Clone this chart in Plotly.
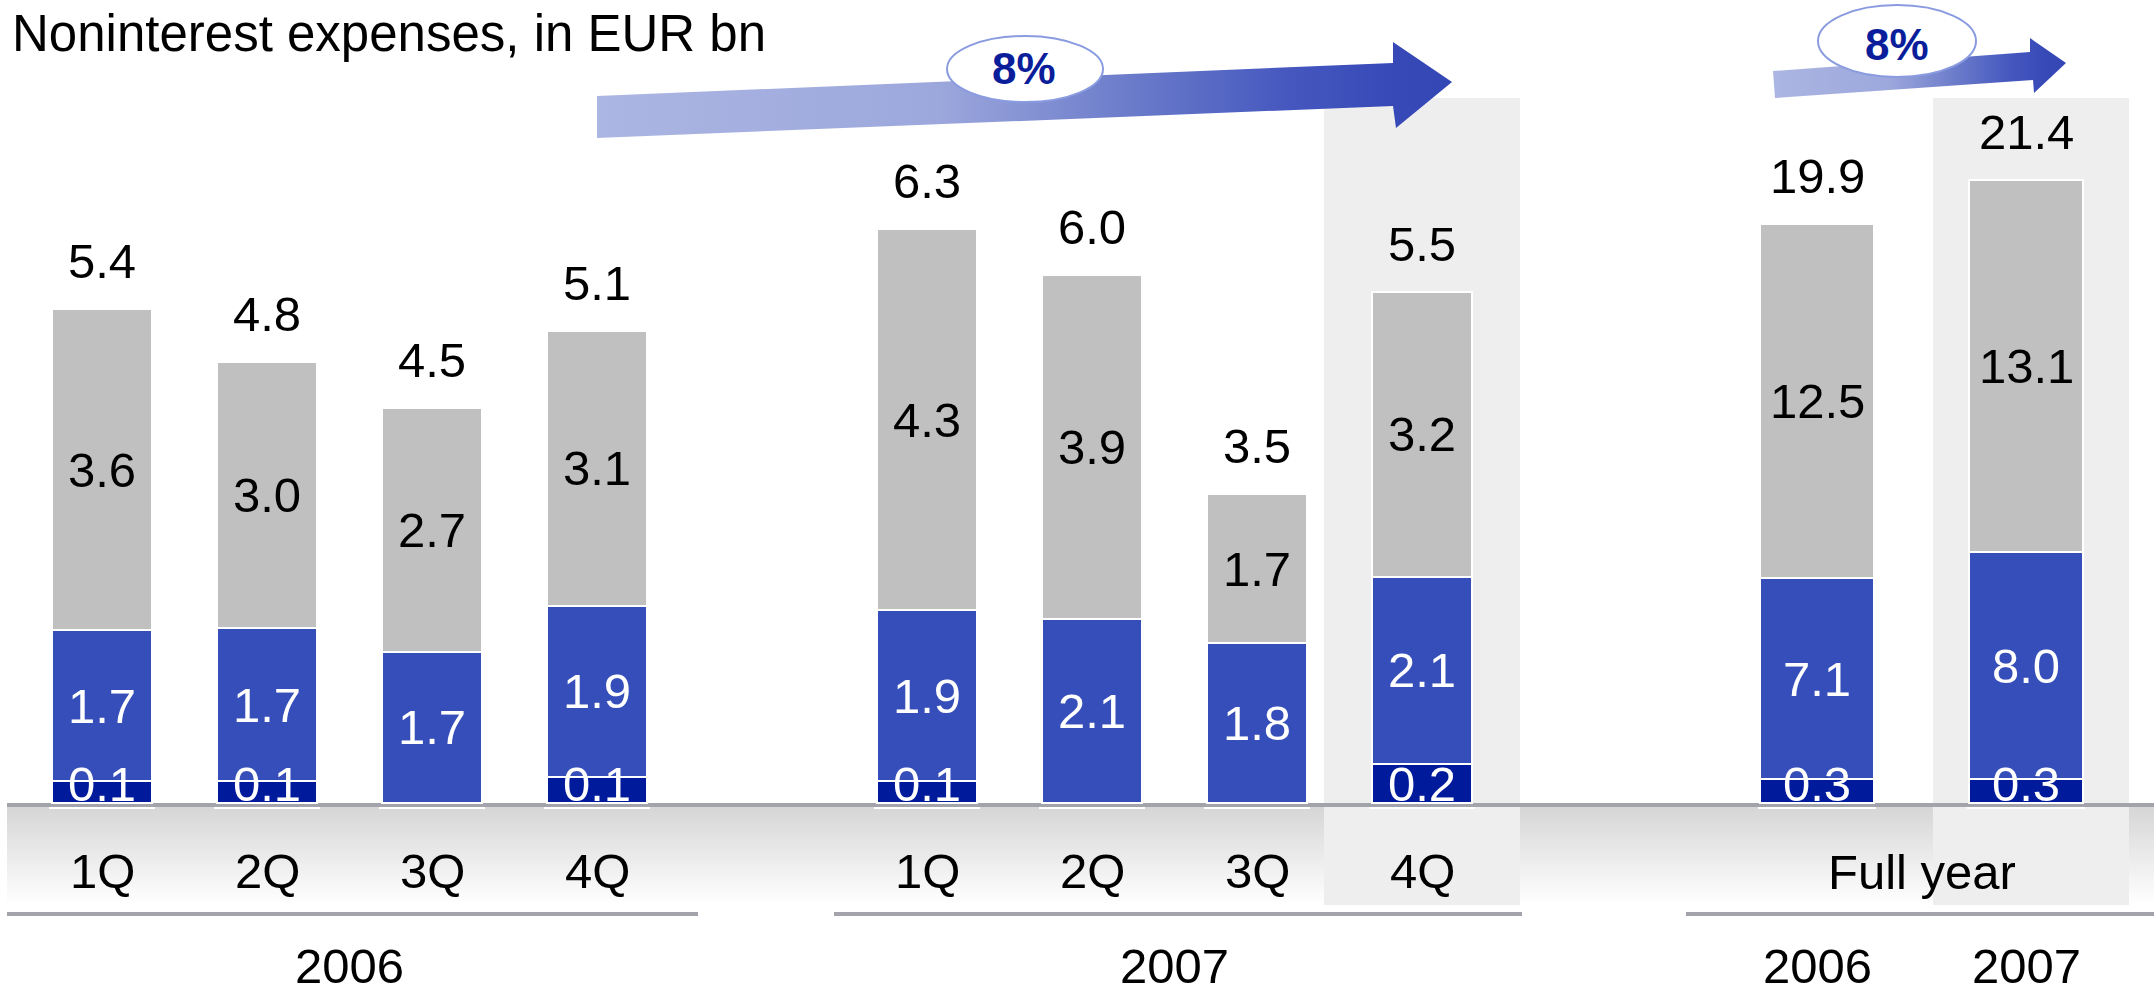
import plotly.graph_objects as go

# ---------------- data ----------------
quarters = ["1Q", "2Q", "3Q", "4Q"]
years = ["2006", "2007"]
full_year_label = "Full year"
title_text = "Noninterest expenses, in EUR bn"
growth_labels = ["8%", "8%"]

# bar segment heights as drawn in the picture (EUR bn)
q06_dark = [0.24, 0.24, None, 0.29]
q06_blue = [1.67, 1.69, 1.67, 1.89]
q06_gray = [3.55, 2.94, 2.69, 3.04]
q07_dark = [0.24, None, None, 0.43]
q07_blue = [1.89, 2.03, 1.77, 2.07]
q07_gray = [4.21, 3.80, 1.64, 3.15]
fy_dark = [0.82, 0.82]
fy_blue = [6.91, 7.80]
fy_gray = [12.16, 12.78]

# printed value labels
q06_total_lbl = [5.4, 4.8, 4.5, 5.1]
q06_gray_lbl = [3.6, 3.0, 2.7, 3.1]
q06_blue_lbl = [1.7, 1.7, 1.7, 1.9]
q06_dark_lbl = [0.1, 0.1, None, 0.1]
q07_total_lbl = [6.3, 6.0, 3.5, 5.5]
q07_gray_lbl = [4.3, 3.9, 1.7, 3.2]
q07_blue_lbl = [1.9, 2.1, 1.8, 2.1]
q07_dark_lbl = [0.1, None, None, 0.2]
fy_total_lbl = [19.9, 21.4]
fy_gray_lbl = [12.5, 13.1]
fy_blue_lbl = [7.1, 8.0]
fy_dark_lbl = [0.3, 0.3]

# ---------------- layout constants ----------------
W, H = 2154, 993
FONT = "Liberation Sans, Arial, Helvetica, sans-serif"
GRAY = "#C0C0C0"
BLUE = "#354EB9"
DARK = "#001A9C"
HILITE = "#EEEEEE"
RULE = "#A3A3AB"
LBL = 49

BASE_PX = 803
Q_X0, Q_STEP, Q_YS = 102, 165, 90.5
F_X0, F_STEP, F_YS = 1817, 209, 29.1


def px_x(p):
    return p / W


def px_y(p):
    return 1 - p / H


gap = " "
q_cats = [f"{q} {y}" for y in years for q in quarters]
cat_order = q_cats[:4] + [gap] + q_cats[4:]
fy_cats = [f"FY {y}" for y in years]

q_dark = q06_dark + q07_dark
q_blue = q06_blue + q07_blue
q_gray = q06_gray + q07_gray
q_total_lbl = q06_total_lbl + q07_total_lbl
q_gray_lbl = q06_gray_lbl + q07_gray_lbl
q_blue_lbl = q06_blue_lbl + q07_blue_lbl
q_dark_lbl = q06_dark_lbl + q07_dark_lbl

fig = go.Figure()


def add_stack(cats, dark, blue, gray, width, xa, ya):
    for vals, col, nm in [(dark, DARK, "Segment 1"), (blue, BLUE, "Segment 2"),
                          (gray, GRAY, "Segment 3")]:
        fig.add_trace(go.Bar(
            x=cats, y=vals, name=nm, width=width,
            marker=dict(color=col, line=dict(color="white", width=2)),
            xaxis=xa, yaxis=ya, showlegend=False, hoverinfo="skip"))


add_stack(q_cats, q_dark, q_blue, q_gray, 0.612, "x", "y")
add_stack(fy_cats, fy_dark, fy_blue, fy_gray, 0.545, "x2", "y2")

ann = []


def label_stack(cats, dark, blue, gray, tl, gl, bl, dl, xref, yref):
    for i, c in enumerate(cats):
        d = dark[i] or 0
        b = blue[i] or 0
        g = gray[i] or 0
        ann.append(dict(x=c, y=d + b + g, xref=xref, yref=yref, text=f"{tl[i]:.1f}",
                        yshift=48, showarrow=False, yanchor="middle",
                        font=dict(size=LBL, color="black", family=FONT)))
        ann.append(dict(x=c, y=d + b + g / 2, xref=xref, yref=yref, text=f"{gl[i]:.1f}",
                        showarrow=False, yanchor="middle",
                        font=dict(size=LBL, color="black", family=FONT)))
        ann.append(dict(x=c, y=d + b / 2, xref=xref, yref=yref, text=f"{bl[i]:.1f}",
                        showarrow=False, yanchor="middle",
                        font=dict(size=LBL, color="white", family=FONT)))
        if dl[i] is not None:
            ann.append(dict(x=c, y=0, xref=xref, yref=yref, text=f"{dl[i]:.1f}",
                            yshift=19, showarrow=False, yanchor="middle",
                            font=dict(size=LBL, color="white", family=FONT)))


label_stack(q_cats, q_dark, q_blue, q_gray, q_total_lbl, q_gray_lbl, q_blue_lbl,
            q_dark_lbl, "x", "y")
label_stack(fy_cats, fy_dark, fy_blue, fy_gray, fy_total_lbl, fy_gray_lbl, fy_blue_lbl,
            fy_dark_lbl, "x2", "y2")

# category labels
YEAR_Y = 966
for c, q in zip(q_cats, quarters * 2):
    ann.append(dict(x=c, y=px_y(871), xref="x", yref="paper", text=q, showarrow=False,
                    yanchor="middle", font=dict(size=LBL, color="black", family=FONT)))
ann.append(dict(x=1.5, y=px_y(YEAR_Y), xref="x", yref="paper", text=years[0], showarrow=False,
                yanchor="middle", font=dict(size=LBL, color="black", family=FONT)))
ann.append(dict(x=6.5, y=px_y(YEAR_Y), xref="x", yref="paper", text=years[1], showarrow=False,
                yanchor="middle", font=dict(size=LBL, color="black", family=FONT)))
ann.append(dict(x=0.5, y=px_y(872), xref="x2", yref="paper", text=full_year_label,
                showarrow=False, yanchor="middle",
                font=dict(size=LBL, color="black", family=FONT)))
for c, y in zip(fy_cats, years):
    ann.append(dict(x=c, y=px_y(YEAR_Y), xref="x2", yref="paper", text=y, showarrow=False,
                    yanchor="middle", font=dict(size=LBL, color="black", family=FONT)))

# title
ann.append(dict(x=px_x(10), y=px_y(34), xref="paper", yref="paper", text=title_text,
                showarrow=False, xanchor="left", yanchor="middle",
                font=dict(size=51, color="black", family=FONT)))

# growth labels
for (cx, cy), t in zip([(1024, 69), (1897, 44)], growth_labels):
    ann.append(dict(x=px_x(cx), y=px_y(cy), xref="paper", yref="paper", text=f"<b>{t}</b>",
                    showarrow=False, xanchor="center", yanchor="middle",
                    font=dict(size=44, color="#0A1E9B", family=FONT)))

# ---------------- decorative shapes ----------------
shapes = []
# gradient band below the baseline
top, bot = 807, 905
n = (bot - top) // 2
for k in range(n):
    t = k / (n - 1)
    v = int(round(214 + (255 - 214) * t))
    shapes.append(dict(type="rect", xref="paper", yref="paper", layer="below",
                       x0=px_x(7), x1=1, y0=px_y(top + 2 * k), y1=px_y(top + 2 * k + 2.2),
                       fillcolor=f"rgb({v},{v},{v})", line=dict(width=0)))
# highlight columns
for x0, x1 in [(1324, 1520), (1933, 2129)]:
    shapes.append(dict(type="rect", xref="paper", yref="paper", layer="below",
                       x0=px_x(x0), x1=px_x(x1), y0=px_y(905), y1=px_y(98),
                       fillcolor=HILITE, line=dict(width=0)))
# baseline
shapes.append(dict(type="rect", xref="paper", yref="paper", layer="below",
                   x0=px_x(7), x1=1, y0=px_y(807), y1=px_y(803),
                   fillcolor=RULE, line=dict(width=0)))
# thin white edge under each bar, just below the baseline rule
for cx, hw in [(Q_X0 + Q_STEP * i, 53) for i in (0, 1, 2, 3, 5, 6, 7, 8)] + \
              [(F_X0 + F_STEP * i, 59) for i in (0, 1)]:
    shapes.append(dict(type="rect", xref="paper", yref="paper", layer="below",
                       x0=px_x(cx - hw), x1=px_x(cx + hw), y0=px_y(809), y1=px_y(807),
                       fillcolor="white", line=dict(width=0)))
# group rules
for x0, x1 in [(7, 698), (834, 1522), (1686, W)]:
    shapes.append(dict(type="rect", xref="paper", yref="paper", layer="below",
                       x0=px_x(x0), x1=px_x(x1), y0=px_y(916), y1=px_y(912),
                       fillcolor=RULE, line=dict(width=0)))
# ellipses
for x0, x1, y0, y1 in [(947, 1103, 36, 102), (1818, 1976, 5, 77)]:
    shapes.append(dict(type="circle", xref="paper", yref="paper", layer="above",
                       x0=px_x(x0), x1=px_x(x1), y0=px_y(y1), y1=px_y(y0),
                       fillcolor="white", line=dict(color="#8A9BE0", width=2)))

# gradient arrows (in a pixel-space helper axis)
arrow_scale = [[0, "#ACB6E3"], [0.4, "#9CA7DC"], [0.6, "#7080CC"],
               [0.8, "#4759BF"], [0.93, "#3749B7"], [1, "#3347B5"]]
arrows = [
    ([597, 1393, 1393, 1452, 1396, 1393, 597, 597], [96, 63, 42, 82, 128, 106, 138, 96]),
    ([1773, 2030, 2030, 2066, 2034, 2033, 1775, 1773], [71, 52, 38, 63, 93, 80, 98, 71]),
]
for ax_, ay_ in arrows:
    fig.add_trace(go.Scatter(x=ax_, y=ay_, mode="lines", fill="toself",
                             line=dict(width=0, color="rgba(0,0,0,0)"),
                             fillgradient=dict(type="horizontal", colorscale=arrow_scale),
                             xaxis="x3", yaxis="y3", showlegend=False, hoverinfo="skip"))

fig.update_layout(
    width=W, height=H, autosize=False,
    margin=dict(l=0, r=0, t=0, b=0, pad=0),
    paper_bgcolor="white", plot_bgcolor="rgba(0,0,0,0)",
    barmode="stack", bargap=0, showlegend=False,
    font=dict(family=FONT),
    xaxis=dict(domain=[0, 1], type="category", categoryorder="array",
               categoryarray=cat_order, range=[-Q_X0 / Q_STEP, (W - Q_X0) / Q_STEP],
               visible=False, fixedrange=True),
    yaxis=dict(domain=[0, 1], range=[-(H - BASE_PX) / Q_YS, BASE_PX / Q_YS],
               visible=False, fixedrange=True),
    xaxis2=dict(domain=[0, 1], anchor="y2", type="category", categoryorder="array",
                categoryarray=fy_cats, range=[-F_X0 / F_STEP, (W - F_X0) / F_STEP],
                visible=False, fixedrange=True),
    yaxis2=dict(domain=[0, 1], anchor="x2", range=[-(H - BASE_PX) / F_YS, BASE_PX / F_YS],
                visible=False, fixedrange=True),
    xaxis3=dict(domain=[0, 1], anchor="y3", range=[0, W], visible=False, fixedrange=True),
    yaxis3=dict(domain=[0, 1], anchor="x3", range=[H, 0], visible=False, fixedrange=True),
    annotations=ann,
    shapes=shapes,
)

fig.write_html("out.html", config={"displayModeBar": False},
               post_script="document.body.style.margin='0';document.body.style.overflow='hidden';")
